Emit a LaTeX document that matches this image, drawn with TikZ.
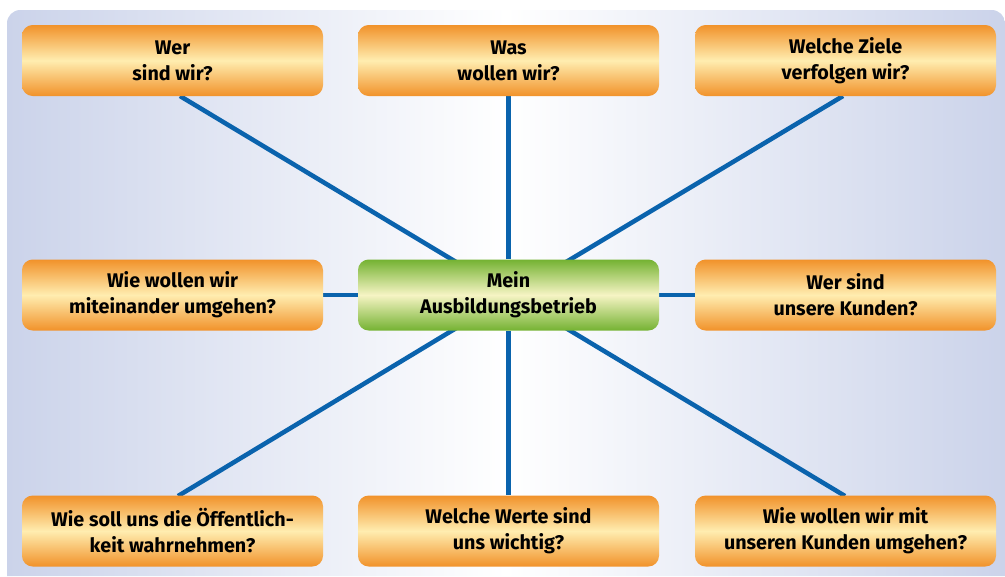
\documentclass[tikz,border=0pt]{standalone}
\usepackage{fontspec}
\setmainfont{Fira Sans}
\usetikzlibrary{calc}
\definecolor{panelblue}{HTML}{CBD3EA}
\definecolor{orangeD}{HTML}{F1922A}
\definecolor{orangeL}{HTML}{FFEDB0}
\definecolor{greenD}{HTML}{74B232}
\definecolor{greenL}{HTML}{F6F4C4}
\definecolor{linkblue}{HTML}{0A63AD}
\pgfdeclarelayer{back}
\pgfdeclarelayer{lines}
\pgfsetlayers{back,lines,main}
\tikzset{
  qbox/.style={rounded corners=8pt, minimum width=301*0.75pt, minimum height=71*0.75pt,
    top color=orangeD, bottom color=orangeD, middle color=orangeL,
    align=center, font=\bfseries\fontsize{14.8}{19.5}\selectfont, inner sep=0pt},
  hubbox/.style={qbox, top color=greenD, bottom color=greenD, middle color=greenL},
  conn/.style={draw=linkblue, line width=3.4pt}
}
\begin{document}
\begin{tikzpicture}[x=0.75pt, y=-0.75pt]
\useasboundingbox (0,0) rectangle (1005,576);
\begin{pgfonlayer}{back}
\fill[white] (0,0) rectangle (1005,576);
\shade[left color=panelblue, right color=panelblue, middle color=white, rounded corners=10pt]
  (7,576) -- (7,10) -- (1005,10) [sharp corners] -- (1005,576) -- cycle;
\end{pgfonlayer}
\node[qbox] (tl) at (172.5,60.5) {Wer\\sind wir?};
\node[qbox] (tm) at (508.5,60.5) {Was\\wollen wir?};
\node[qbox] (tr) at (845.5,60.5) {Welche Ziele\\verfolgen wir?};
\node[qbox] (ml) at (172.5,295) {Wie wollen wir\\miteinander umgehen?};
\node[hubbox] (c) at (508.5,295) {Mein\\Ausbildungsbetrieb};
\node[qbox] (mr) at (845.5,295) {Wer sind\\unsere Kunden?};
\node[qbox] (bl) at (172.5,531) {Wie soll uns die Öffentlich-\\keit wahrnehmen?};
\node[qbox] (bm) at (508.5,531) {Welche Werte sind\\uns wichtig?};
\node[qbox] (br) at (845.5,531) {Wie wollen wir mit\\unseren Kunden umgehen?};
\coordinate (hub) at (511,295);
\coordinate (tlend) at (180,96);
\coordinate (trend) at (843,96);
\coordinate (blend) at (178,496);
\coordinate (brend) at (845,496);
\begin{pgfonlayer}{lines}
\draw[conn] (hub) -- (tlend);
\draw[conn] (hub) -- (trend);
\draw[conn] (hub) -- (blend);
\draw[conn] (hub) -- (brend);
\draw[conn] (c.north -| tm.south) -- (tm.south);
\draw[conn] (c.south -| bm.north) -- (bm.north);
\draw[conn] (c.west) -- (ml.east);
\draw[conn] (c.east) -- (mr.west);
\end{pgfonlayer}
\end{tikzpicture}
\end{document}
